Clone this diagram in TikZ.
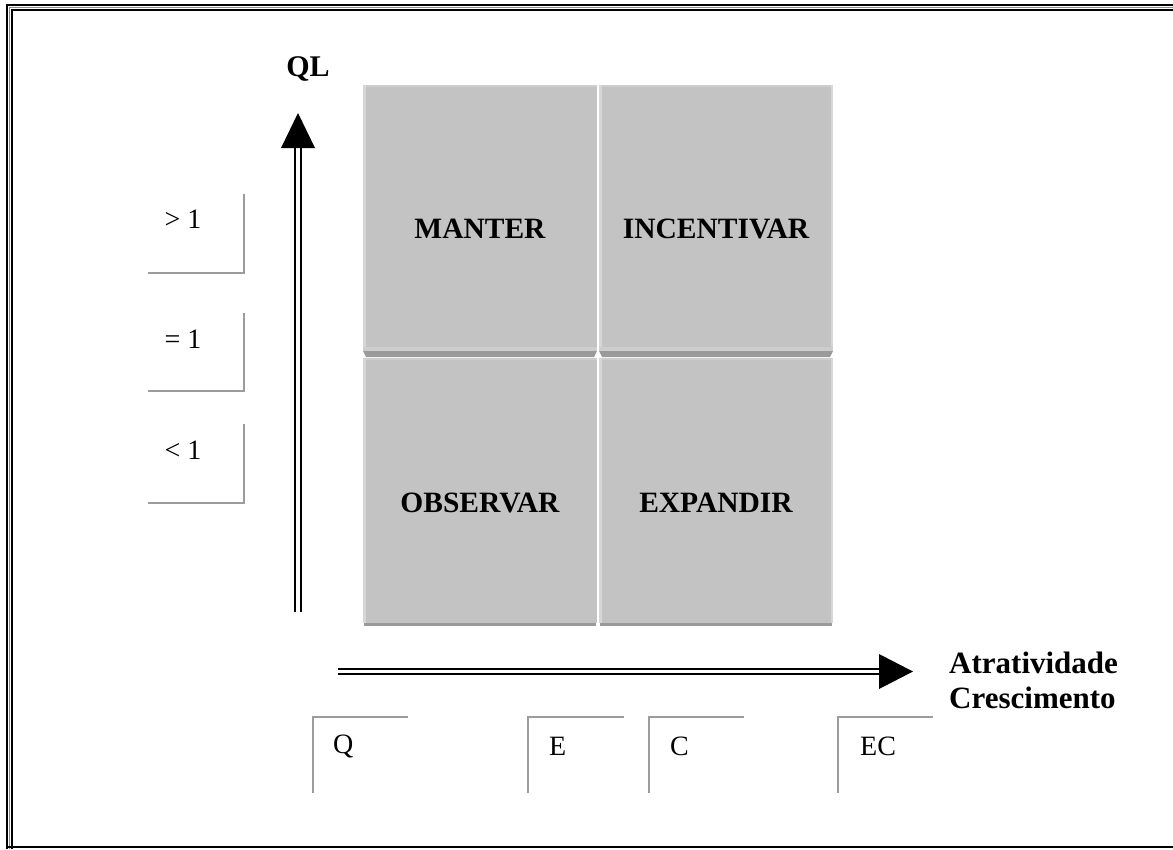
\documentclass[tikz,border=0pt]{standalone}
\usepackage{fontspec}
\setmainfont{Liberation Serif}
\definecolor{quad}{HTML}{C3C3C3}
\definecolor{quaddark}{HTML}{9A9A9A}
\definecolor{quadlight}{HTML}{D6D6D6}
\definecolor{quadmid}{HTML}{CDCDCD}
\definecolor{tickgray}{HTML}{9C9C9C}
\definecolor{framegray}{HTML}{8A8A8A}
\begin{document}
\begin{tikzpicture}[x=1pt,y=-1pt,
  quadbox/.style={draw=none,fill=quad,inner sep=0pt,outer sep=0pt,anchor=north west,minimum width=234pt},
  qlabel/.style={font=\bfseries\fontsize{29.5}{34}\selectfont,inner sep=0pt,anchor=base},
  axislabel/.style={font=\bfseries\fontsize{31}{36}\selectfont,inner sep=0pt},
  ticklabel/.style={font=\fontsize{28}{32}\selectfont,inner sep=0pt},
  tickline/.style={draw=tickgray,line width=2.3pt},
  axisshaft/.style={draw=black,double=white,line width=2.2pt},
  framelines/.style={draw=black,line width=2pt}
]
\useasboundingbox (0,0) rectangle (1173,849);

% outer frame
\draw[framelines] (7,849) -- (7,5) -- (1175,5);
\draw[framegray,line width=1.2pt] (9.5,849) -- (9.5,7.5) -- (1175,7.5);
\draw[framelines] (12,849) -- (12,10) -- (1175,10);
\draw[framelines] (6,847) -- (1175,847);

% quadrant boxes
\node[quadbox,minimum height=266pt] (tl) at (363,85) {};
\node[quadbox,minimum height=266pt] (tr) at (599,85) {};
\node[quadbox,minimum height=265pt] (bl) at (363,358) {};
\node[quadbox,minimum height=265pt] (br) at (599,358) {};

% bevels top row
\fill[quadmid] (363,85) rectangle (597,87);
\fill[quadmid] (599,85) rectangle (833,87);
\fill[quadlight] (363,85) rectangle (365.5,351);
\fill[quadlight] (599,85) rectangle (601.5,351);
\fill[quadlight] (830.5,85) rectangle (833,351);
\fill[quadmid] (363,347) rectangle (597,351);
\fill[quadmid] (599,347) rectangle (833,351);
\fill[quaddark] (363,351) -- (597,351) -- (594,357) -- (366,357) -- cycle;
\fill[quaddark] (599,351) -- (833,351) -- (830,357) -- (602,357) -- cycle;
% bevels bottom row
\fill[quadmid] (363,358) rectangle (597,360);
\fill[quadmid] (599,358) rectangle (833,360);
\fill[quadlight] (363,358) rectangle (365.5,623);
\fill[quadlight] (599,358) rectangle (601.5,623);
\fill[quadlight] (830.5,358) rectangle (833,623);
\fill[quaddark] (364,622.5) rectangle (596,626);
\fill[quaddark] (600,622.5) rectangle (832,626);

% quadrant labels
\node[qlabel] (lmanter) at (480,238.5) {MANTER};
\node[qlabel] (lincent) at (716,238.5) {INCENTIVAR};
\node[qlabel] (lobserv) at (480,512.5) {OBSERVAR};
\node[qlabel] (lexpand) at (716,512.5) {EXPANDIR};

% vertical axis
\coordinate (vbase) at (298,612);
\coordinate (vhead) at (298,148);
\coordinate (vtip) at (298,113);
\draw[axisshaft,double distance=3.6pt] (vbase) -- (vhead);
\fill (281,148) -- (vtip) -- (315,148) -- cycle;
\node[axislabel,font=\bfseries\fontsize{30}{34}\selectfont] (ql) at (308,69) {QL};

% horizontal axis
\coordinate (hbase) at (338,671.5);
\coordinate (hhead) at (879,671.5);
\coordinate (htip) at (913,671.5);
\draw[axisshaft,line width=2pt,double distance=3pt] (hbase) -- (hhead);
\fill (879,654) -- (htip) -- (879,689) -- cycle;
\node[axislabel,anchor=base west] (atr) at (949,673) {Atratividade};
\node[axislabel,anchor=base west] (cre) at (949,708) {Crescimento};

% left tick boxes
\node[ticklabel] (gt) at (183,219) {> 1};
\node[ticklabel] (eq) at (183,339) {= 1};
\node[ticklabel] (lt) at (183,450) {< 1};
\draw[tickline] (148,273) -- (244,273) -- (244,194);
\draw[tickline] (148,391) -- (244,391) -- (244,313);
\draw[tickline] (148,503) -- (244,503) -- (244,424);

% bottom tick boxes
\draw[tickline] (313,793) -- (313,717) -- (408,717);
\draw[tickline] (528,793) -- (528,717) -- (624,717);
\draw[tickline] (649,793) -- (649,717) -- (744,717);
\draw[tickline] (838,793) -- (838,717) -- (933,717);
\node[ticklabel,anchor=west] (tq) at (333,746) {Q};
\node[ticklabel,anchor=west] (te) at (549,746) {E};
\node[ticklabel,anchor=west] (tc) at (670,746) {C};
\node[ticklabel,anchor=west] (tec) at (860,746) {EC};
\end{tikzpicture}
\end{document}
